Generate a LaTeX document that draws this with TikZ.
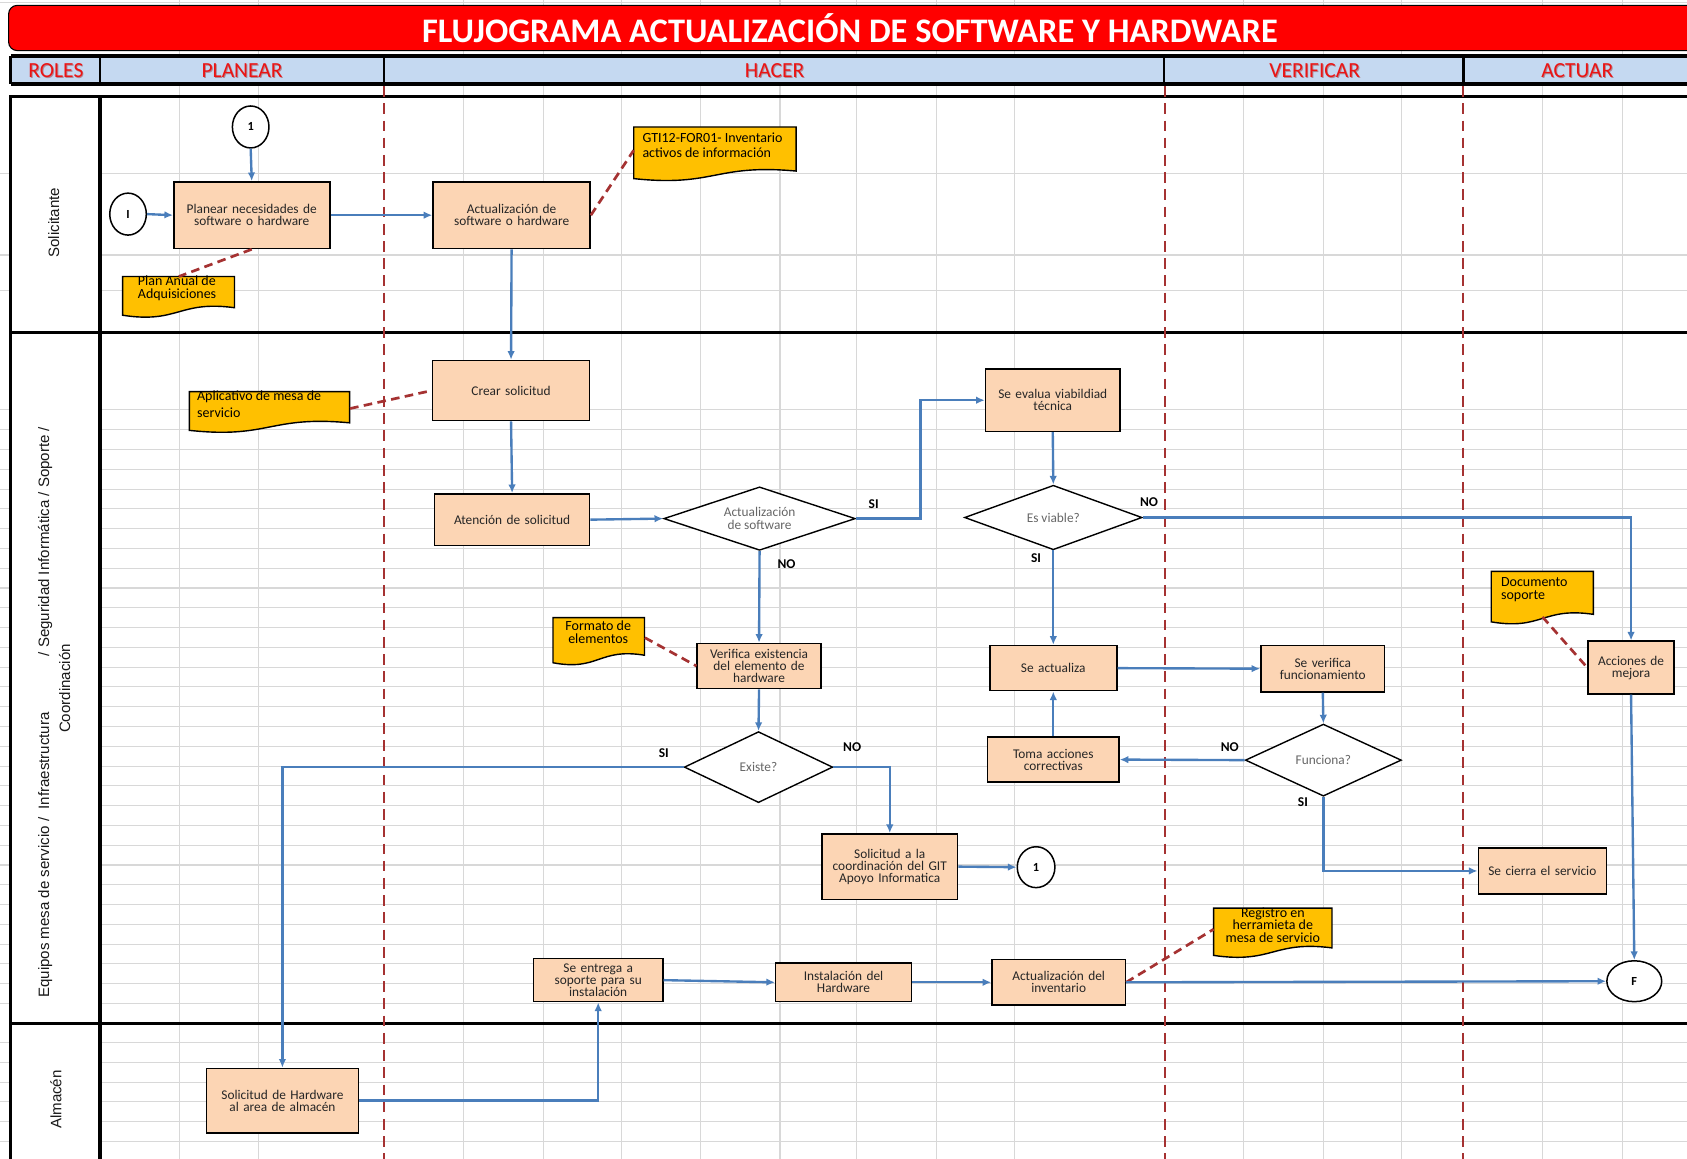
\documentclass[tikz,border=0pt]{standalone}
\usepackage{fontspec}
\setmainfont{Carlito}
\newfontfamily\arialf{Liberation Sans}
\usetikzlibrary{shapes.geometric,arrows.meta,calc}
\definecolor{peach}{RGB}{252,213,180}
\definecolor{noteyel}{RGB}{255,192,0}
\definecolor{flowblue}{RGB}{74,126,187}
\definecolor{dashred}{RGB}{165,50,50}
\definecolor{hdrblue}{RGB}{197,217,241}
\definecolor{gridgray}{RGB}{216,216,216}
\definecolor{titlered}{RGB}{255,0,0}
\definecolor{hdrtext}{RGB}{235,20,20}
\definecolor{hdrshadow}{RGB}{150,40,40}
\newcommand{\notedoc}[5]{%
  \filldraw[draw=black, fill=noteyel, line width=1.3pt] (#2,#3) -- (#4,#3) -- (#4,{#5-8})
    .. controls ({(#2+#4)/2},{#5-15}) and ({(#2+#4)/2},{#5+7}) .. (#2,{#5-1}) -- cycle;
  \node[inner sep=0pt, minimum width={#4-#2}, minimum height={#5-#3-6}, anchor=north west] (#1) at (#2,#3) {};
}
\newcommand{\hdrlabel}[3]{%
  \node[hdr, text=hdrshadow, opacity=0.45] (#1s) at ({#2+0.9},66.9) {#3};
  \node[hdr] (#1) at (#2,66) {#3};
}
\begin{document}
\begin{tikzpicture}[x=1pt,y=-1pt,
  gridline/.style={draw=gridgray, line width=1pt},
  thickline/.style={draw=black, line width=3pt},
  box/.style={draw=black, fill=peach, line width=1.4pt, inner sep=1pt, align=center,
    font=\fontsize{12.4}{11.2}\selectfont, text=black!85},
  dec/.style={diamond, draw=black, fill=white, line width=1.3pt, inner sep=0pt, align=center,
    font=\fontsize{12.4}{12.5}\selectfont, text=black!60},
  term/.style={ellipse, draw=black, line width=1.4pt, fill=white, inner sep=0pt,
    font=\bfseries\fontsize{11.5}{11}\selectfont},
  flow/.style={draw=flowblue, line width=2.2pt, -{Latex[length=8pt,width=7pt]}},
  link/.style={draw=dashred, line width=2.5pt, dash pattern=on 8pt off 5pt},
  lbl/.style={font=\bfseries\fontsize{12.5}{12}\selectfont, inner sep=0pt},
  notetxt/.style={font=\fontsize{13}{11.5}\selectfont, inner sep=0pt, text=black},
  hdr/.style={font=\fontsize{20}{20}\selectfont, text=hdrtext},
  role/.style={font=\arialf\fontsize{14}{16}\selectfont, rotate=90, inner sep=0pt, text=black!90}
]
\useasboundingbox (0,0) rectangle (1568,1077);
\clip (0,0) rectangle (1568,1077);
\fill[white] (0,0) rectangle (1568,1077);
% grid
\foreach \gx in {167,240,431,505,578,651,725,796,870,943,1156,1230,1303,1434,1508}
  \draw[gridline] (\gx,0) -- (\gx,1077);
\foreach \gy in {2,161,237,270}
  \draw[gridline] (0,\gy) -- (1568,\gy);
\foreach \i in {0,...,30}
  \draw[gridline] (0,{381+\i*18.39}) -- (1568,{381+\i*18.39});
\foreach \i in {1,...,7}
  \draw[gridline] (0,{951+\i*18.3}) -- (1568,{951+\i*18.3});
\fill[white] (10,90) rectangle (93,1077);
% title
\draw[fill=titlered, draw=black, line width=1pt, rounded corners=8pt] (8,5) rectangle (1600,47);
\node[font=\bfseries\fontsize{32}{32}\selectfont, text=white] (title) at (790,26) {FLUJOGRAMA ACTUALIZACIÓN DE SOFTWARE Y HARDWARE};
% header row
\fill[hdrblue] (10,52) rectangle (1575,78);
\draw[thickline] (10,52) -- (1575,52);
\draw[thickline] (10,78) -- (1575,78);
\foreach \hx in {10,93,357,1082,1360}
  \draw[black, line width=2.5pt] (\hx,52) -- (\hx,78);
\hdrlabel{hroles}{52}{ROLES}
\hdrlabel{hplan}{225}{PLANEAR}
\hdrlabel{hhacer}{720}{HACER}
\hdrlabel{hverif}{1222}{VERIFICAR}
\hdrlabel{hact}{1466}{ACTUAR}
% table
\draw[thickline] (10,90) -- (1575,90);
\draw[thickline] (10,309) -- (1575,309);
\draw[thickline] (10,951) -- (1575,951);
\draw[thickline] (10,88.5) -- (10,1080);
\draw[thickline] (93,88.5) -- (93,1080);
% phase separators
\foreach \dx in {357,1083,1360}
  \draw[draw=dashred, line width=2.3pt, dash pattern=on 10pt off 6pt] (\dx,80) -- (\dx,1077);
% role labels
\node[role] (rsol) at (50,207) {Solicitante};
\node[role] (requ) at (42,662) {Equipos mesa de servicio /\ \ Infraestructura\hspace{52pt}/ Seguridad Informática / Soporte /};
\node[role] (rcoo) at (60,640) {Coordinación};
\node[role] (ralm) at (52,1022) {Almacén};

% notes
\notedoc{gti}{589}{118}{740}{167}
\node[notetxt, anchor=north west, align=left] (gtiT) at (597,123) {GTI12-FOR01- Inventario\\[3pt]activos de información};
\notedoc{plan}{114}{257}{218}{294}
\node[notetxt, anchor=north west, align=left] (planT) at (128,256.5) {Plan Anual de\\Adquisiciones};
\notedoc{aplic}{176}{364}{325}{401}
\node[notetxt, anchor=north west, align=left] (aplicT) at (183,363) {Aplicativo de mesa de\\[4pt]servicio};
\notedoc{formato}{514}{574}{599}{617}
\node[notetxt, anchor=north, align=center] (formatoT) at (556,577) {Formato de\\elementos};
\notedoc{docsop}{1386}{531}{1481}{579}
\node[notetxt, anchor=north west, align=left] (docsopT) at (1395,537) {Documento\\soporte};
\notedoc{registro}{1128}{844}{1238}{889}
\node[notetxt, anchor=north, align=center] (registroT) at (1183,843.5) {Registro en\\herramieta de\\mesa de servicio};

% process nodes
\node[term, minimum width=34pt, minimum height=39pt] (c1top) at (233,118) {1};
\node[term, minimum width=34pt, minimum height=39pt] (cI) at (119,199) {I};
\node[box, minimum width=145pt, minimum height=62pt, text width=140pt] (planear) at (234,200) {Planear necesidades de\\software o hardware};
\node[box, minimum width=146pt, minimum height=62pt, text width=140pt] (actsw) at (475.5,200) {Actualización de\\software o hardware};
\node[box, minimum width=146pt, minimum height=56pt, text width=140pt] (crear) at (475,363) {Crear solicitud};
\node[box, minimum width=144pt, minimum height=48pt, text width=138pt] (atencion) at (476,483) {Atención de solicitud};
\node[dec, minimum width=178pt, minimum height=59pt, aspect=3] (dsw) at (706,482) {Actualización\\de software};
\node[box, minimum width=125pt, minimum height=58pt, text width=120pt] (evalua) at (978.5,372) {Se evalua viabildiad\\técnica};
\node[dec, minimum width=165pt, minimum height=60pt, aspect=2.75] (dviable) at (979,481) {Es viable?};
\node[box, minimum width=118pt, minimum height=42pt, text width=112pt] (actualiza) at (979,621) {Se actualiza};
\node[box, minimum width=115pt, minimum height=43pt, text width=110pt] (verifica) at (1229.5,621.5) {Se verifica\\funcionamiento};
\node[dec, minimum width=145pt, minimum height=67pt, aspect=2.2] (dfunc) at (1230,706.5) {Funciona?};
\node[box, minimum width=122pt, minimum height=42pt, text width=116pt] (toma) at (979,706) {Toma acciones\\correctivas};
\node[box, minimum width=119pt, minimum height=43pt, text width=114pt] (cierra) at (1433.5,809.5) {Se cierra el servicio};
\node[box, minimum width=80pt, minimum height=49pt, text width=76pt] (acciones) at (1516,620.5) {Acciones de\\mejora};
\node[term, minimum width=51pt, minimum height=38pt] (fend) at (1519,912) {F};
\node[box, minimum width=115pt, minimum height=42pt, text width=112pt] (verifex) at (705.5,619) {Verifica existencia\\del elemento de\\hardware};
\node[dec, minimum width=138pt, minimum height=66pt, aspect=2.1] (dexiste) at (705,713) {Existe?};
\node[box, minimum width=126pt, minimum height=61pt, text width=122pt] (solcoord) at (827,805.5) {Solicitud a la\\coordinación del GIT\\Apoyo Informatica};
\node[term, minimum width=35pt, minimum height=38pt] (c1bot) at (963,806) {1};
\node[box, minimum width=120pt, minimum height=40pt, text width=116pt] (entrega) at (556,911) {Se entrega a\\soporte para su\\instalación};
\node[box, minimum width=126pt, minimum height=36pt, text width=122pt] (instal) at (784,913) {Instalación del\\Hardware};
\node[box, minimum width=124pt, minimum height=42pt, text width=120pt] (actinv) at (984,913) {Actualización del\\inventario};
\node[box, minimum width=141pt, minimum height=60pt, text width=136pt] (solhw) at (262.5,1023) {Solicitud de Hardware\\al area de almacén};

% dashed links
\draw[link] (planear.south) -- (plan.north);
\draw[link] (actsw.east) -- (gti.west);
\draw[link] (aplic.east) -- (crear.west);
\draw[link] (formato.east) -- (verifex.west);
\draw[link] (docsop.south) -- (acciones.west);
\draw[link] (actinv.east) -- (registro.west);

% flows
\draw[flow] (c1top.south) -- (planear.north);
\draw[flow] (cI.east) -- (planear.west);
\draw[flow] (planear.east) -- (actsw.west);
\draw[flow] (actsw.south) -- (crear.north);
\draw[flow] (crear.south) -- (atencion.north);
\draw[flow] (atencion.east) -- (dsw.west);
\draw[flow] (dsw.east) -- ++(60,0) |- (evalua.west);
\draw[flow] (evalua.south) -- (dviable.north);
\draw[flow] (dviable.east) -| (acciones.north);
\draw[flow] (dviable.south) -- (actualiza.north);
\draw[flow] (actualiza.east) -- (verifica.west);
\draw[flow] (verifica.south) -- (dfunc.north);
\draw[flow] (dfunc.west) -- (toma.east);
\draw[flow] (toma.north) -- (actualiza.south);
\draw[flow] (dfunc.south) |- (cierra.west);
\draw[flow] (acciones.south) -- (fend.north);
\draw[flow] (dsw.south) -- (verifex.north);
\draw[flow] (verifex.south) -- (dexiste.north);
\draw[flow] (dexiste.west) -| (solhw.north);
\draw[flow] (dexiste.east) -| (solcoord.north);
\draw[flow] (solcoord.east) -- (c1bot.west);
\draw[flow] (entrega.east) -- (instal.west);
\draw[flow] (instal.east) -- (actinv.west);
\draw[flow] (actinv.east) -- (fend.west);
\draw[flow] (solhw.east) -| (entrega.south);

% branch labels
\node[lbl] (l1) at (812,469) {SI};
\node[lbl] (l2) at (1068,467) {NO};
\node[lbl] (l3) at (963,519) {SI};
\node[lbl] (l4) at (731,524) {NO};
\node[lbl] (l5) at (617,700) {SI};
\node[lbl] (l6) at (792,694) {NO};
\node[lbl] (l7) at (1143,694) {NO};
\node[lbl] (l8) at (1211,746) {SI};
\end{tikzpicture}
\end{document}
